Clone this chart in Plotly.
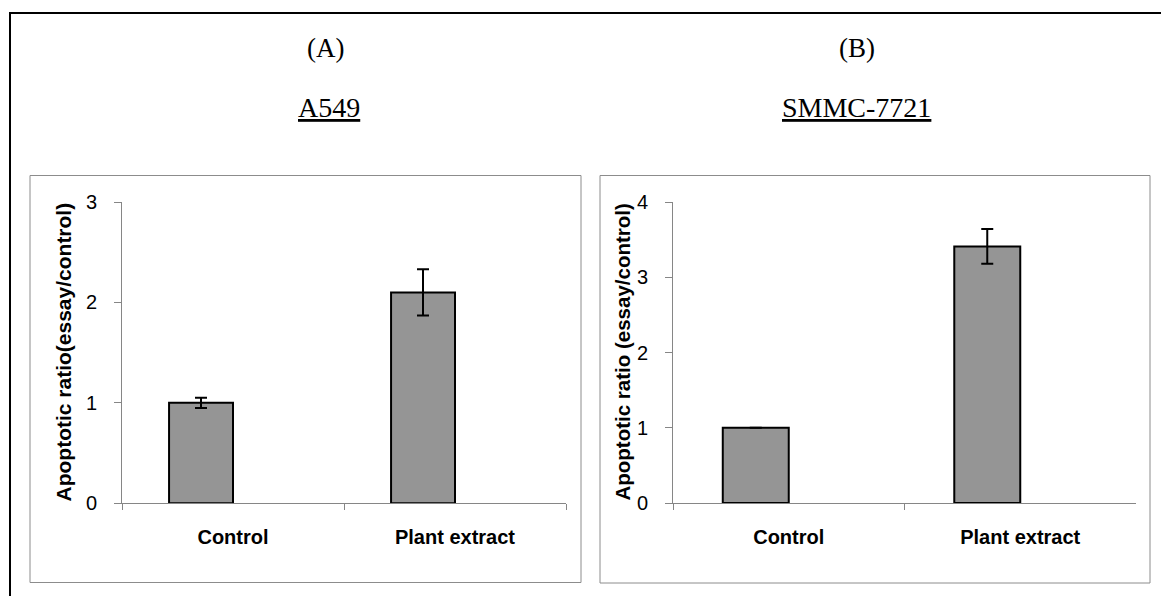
import plotly.graph_objects as go

W, H = 1161, 596

categories = ["Control", "Plant extract"]
a549_values = [1.0, 2.10]
a549_errors = [0.05, 0.23]
smmc_values = [1.0, 3.41]
smmc_errors = [0.0, 0.23]
a549_yticks = [0, 1, 2, 3]
smmc_yticks = [0, 1, 2, 3, 4]

def px(x):
    return x / W

def py(y):
    return 1 - y / H

fig = go.Figure()

bar_style = dict(marker=dict(color="#959595", line=dict(color="black", width=2)), showlegend=False)

fig.add_trace(go.Bar(x=categories, y=a549_values, offset=-0.288, width=0.288,
                     error_y=dict(type="data", array=a549_errors, visible=True,
                                  color="black", thickness=2, width=6),
                     xaxis="x", yaxis="y", **bar_style))
fig.add_trace(go.Bar(x=categories, y=smmc_values, offset=-0.285, width=0.285,
                     error_y=dict(type="data", array=smmc_errors, visible=True,
                                  color="black", thickness=2, width=6),
                     xaxis="x2", yaxis="y2", **bar_style))

axis_gray = "#868686"
xcommon = dict(type="category", showline=True, linecolor=axis_gray, linewidth=1,
               ticks="outside", tickson="boundaries", ticklen=6, tickcolor=axis_gray,
               showgrid=False, zeroline=False, ticklabelstandoff=16, automargin=False,
               tickfont=dict(family="Liberation Sans", size=20, color="black"))
ycommon = dict(showline=True, linecolor=axis_gray, linewidth=1, ticks="outside",
               ticklen=7, tickcolor=axis_gray, showgrid=False, zeroline=False,
               ticklabelstandoff=13, automargin=False,
               tickfont=dict(family="Liberation Sans", size=20, color="black"))

fig.update_layout(
    template="none",
    width=W, height=H, margin=dict(l=0, r=0, t=0, b=0, pad=0, autoexpand=False),
    paper_bgcolor="white", plot_bgcolor="white",
    xaxis=dict(domain=[px(122), px(566)], anchor="y",
               ticktext=["<b>Control</b>", "<b>Plant extract</b>"], tickvals=categories,
               **xcommon),
    yaxis=dict(domain=[py(503.3), py(202)], anchor="x", range=[0, 3],
               tickvals=a549_yticks, **ycommon),
    xaxis2=dict(domain=[px(673), px(1136)], anchor="y2",
                ticktext=["<b>Control</b>", "<b>Plant extract</b>"], tickvals=categories,
                **xcommon),
    yaxis2=dict(domain=[py(503), py(202)], anchor="x2", range=[0, 4],
                tickvals=smmc_yticks, **ycommon),
)

shapes = [
    # outer frame
    dict(type="rect", xref="paper", yref="paper", x0=px(10), y0=py(640), x1=px(1200), y1=py(13),
         line=dict(color="black", width=2), fillcolor="rgba(0,0,0,0)", layer="below"),
    # panel boxes
    dict(type="rect", xref="paper", yref="paper", x0=px(30), y0=py(582.5), x1=px(581), y1=py(175.5),
         line=dict(color="#8c8c8c", width=1), fillcolor="rgba(0,0,0,0)", layer="below"),
    dict(type="rect", xref="paper", yref="paper", x0=px(600), y0=py(583), x1=px(1150), y1=py(175.5),
         line=dict(color="#8c8c8c", width=1), fillcolor="rgba(0,0,0,0)", layer="below"),
]
fig.update_layout(shapes=shapes)

serif = "Liberation Serif"
sans = "Liberation Sans"
annotations = [
    dict(text="(A)", x=px(325), y=py(48), font=dict(family=serif, size=27, color="black")),
    dict(text="(B)", x=px(857), y=py(48), font=dict(family=serif, size=27, color="black")),
    dict(text="<u>A549</u>", x=px(329), y=py(108), font=dict(family=serif, size=28, color="black")),
    dict(text="<u>SMMC-7721</u>", x=px(856), y=py(108), font=dict(family=serif, size=28, color="black")),
    dict(text="<b>Apoptotic ratio(essay/control)</b>", x=px(63), y=py(352.5), textangle=-90,
         font=dict(family=sans, size=21, color="black")),
    dict(text="<b>Apoptotic ratio (essay/control)</b>", x=px(622), y=py(352.5), textangle=-90,
         font=dict(family=sans, size=20.5, color="black")),
]
for a in annotations:
    a.update(xref="paper", yref="paper", showarrow=False, xanchor="center", yanchor="middle")
fig.update_layout(annotations=annotations)

fig.write_html("out.html", config={"displayModeBar": False},
               post_script="document.body.style.margin='0';document.body.style.overflow='hidden';")
